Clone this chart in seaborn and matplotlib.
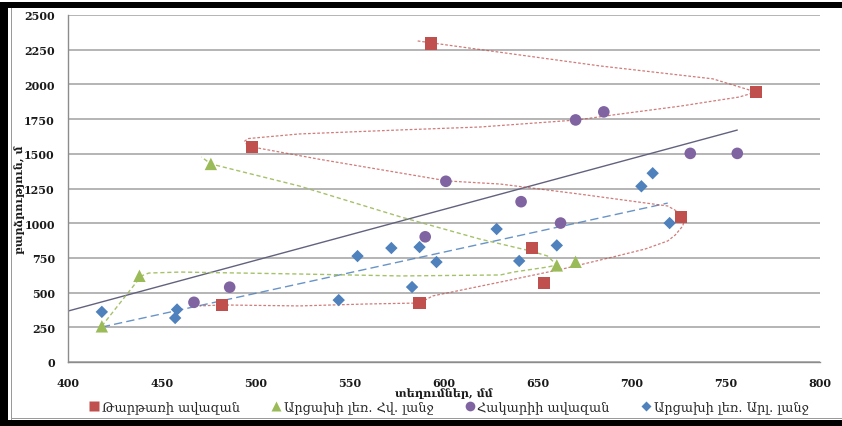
import matplotlib
matplotlib.use("Agg")
import matplotlib.pyplot as plt
from matplotlib.patches import Rectangle
from matplotlib.lines import Line2D
import seaborn as sns

# ---- data -------------------------------------------------------------
series_names = ["Թարթառի ավազան", "Արցախի լեռ. Հվ. լանջ",
                "Հակարիի ավազան", "Արցախի լեռ. Արլ. լանջ"]

tartar_x = [593, 766, 498, 726, 647, 653, 482, 587]
tartar_y = [2295, 1945, 1550, 1043, 820, 567, 413, 423]

south_x = [476, 438, 418, 660, 670]
south_y = [1427, 621, 257, 696, 722]

hakari_x = [467, 486, 590, 601, 641, 662, 670, 685, 731, 756]
hakari_y = [430, 539, 902, 1302, 1155, 1001, 1744, 1802, 1503, 1503]

east_x = [418, 457, 458, 544, 554, 572, 583, 587, 596, 628, 640, 660, 705, 711, 720]
east_y = [361, 317, 378, 446, 763, 821, 540, 828, 720, 958, 728, 840, 1266, 1360, 1001]

# trend lines
overall_trend_x = [400, 756]
overall_trend_y = [367, 1671]

east_trend_x = [418, 719]
east_trend_y = [252, 1145]

# smoothed course of the Tartar basin trend
tartar_curve_x = [586, 594, 683, 743, 766, 757, 743, 726, 690, 671, 619, 577, 523,
                  496, 494, 495, 498, 534, 602, 630, 672, 719, 726, 728, 727, 723,
                  719, 707, 690, 663, 630, 594, 587, 559, 523, 482, 470]
tartar_curve_y = [2313, 2298, 2133, 2040, 1945, 1909, 1880, 1844, 1780, 1744, 1693,
                  1672, 1643, 1610, 1592, 1568, 1549, 1460, 1304, 1282, 1210, 1124,
                  1070, 1030, 980, 915, 872, 814, 757, 670, 576, 476, 425, 418, 404,
                  411, 404]

# smoothed course of the southern slope trend
south_curve_x = [418, 439, 443, 460, 523, 577, 630, 637, 655, 660, 655, 646, 619,
                 577, 523, 476, 471]
south_curve_y = [259, 620, 641, 648, 634, 620, 627, 648, 684, 699, 764, 800, 886,
                 1045, 1268, 1427, 1477]

x_ticks = list(range(400, 801, 50))
y_ticks = list(range(0, 2501, 250))

# ---- style ------------------------------------------------------------
sns.set_style("white")
plt.rcParams["font.family"] = ["DejaVu Serif", "DejaVu Sans"]

RED = "#C0504D"
GREEN = "#9BBB59"
PURPLE = "#8064A2"
BLUE = "#4F81BD"
GRID = "#A8A8A8"

W, H = 842, 427
fig = plt.figure(figsize=(W / 100, H / 100), dpi=100)
fig.patch.set_facecolor("white")
ax = fig.add_axes([68 / W, 64 / H, 752 / W, 347 / H])

# ---- trend lines ------------------------------------------------------
sns.lineplot(x=overall_trend_x, y=overall_trend_y, sort=False, estimator=None,
             color="#62627F", lw=1.0, ax=ax, zorder=2)
sns.lineplot(x=east_trend_x, y=east_trend_y, sort=False, estimator=None,
             color=BLUE, lw=1.0, linestyle=(0, (6, 3)), alpha=0.85, ax=ax, zorder=2)
sns.lineplot(x=tartar_curve_x, y=tartar_curve_y, sort=False, estimator=None,
             color=RED, lw=0.9, linestyle=(0, (2.2, 1.5)), alpha=0.75, ax=ax, zorder=2)
sns.lineplot(x=south_curve_x, y=south_curve_y, sort=False, estimator=None,
             color=GREEN, lw=1.0, linestyle=(0, (3, 2)), alpha=0.9, ax=ax, zorder=2)

# ---- markers ----------------------------------------------------------
sns.scatterplot(x=tartar_x, y=tartar_y, marker="s", s=78, color=RED,
                edgecolor="none", ax=ax, zorder=3)
sns.scatterplot(x=south_x, y=south_y, marker="^", s=80, color=GREEN,
                edgecolor="none", ax=ax, zorder=3)
sns.scatterplot(x=hakari_x, y=hakari_y, marker="o", s=70, color=PURPLE,
                edgecolor="none", ax=ax, zorder=3)
sns.scatterplot(x=east_x, y=east_y, marker="D", s=40, color=BLUE,
                edgecolor="none", ax=ax, zorder=3)

# ---- axes -------------------------------------------------------------
ax.set_xlim(400, 800)
ax.set_ylim(0, 2500)
ax.set_xticks(x_ticks)
ax.set_yticks(y_ticks)
ax.yaxis.grid(True, color=GRID, lw=1.2)
ax.xaxis.grid(False)
ax.set_axisbelow(True)
for side in ("top", "right"):
    ax.spines[side].set_visible(False)
for side in ("left", "bottom"):
    ax.spines[side].set_color("#8C8C8C")
    ax.spines[side].set_linewidth(1.0)

ax.tick_params(axis="y", direction="out", length=4.5, width=1, color="#8C8C8C",
               pad=5, labelsize=8)
ax.tick_params(axis="x", direction="out", length=3, width=1, color="#8C8C8C",
               pad=8, labelsize=8)
for lab in ax.get_xticklabels() + ax.get_yticklabels():
    lab.set_fontweight("bold")
    lab.set_color("#1A1A1A")

ax.set_xlabel("տեղումներ, մմ", fontsize=8, fontweight="bold", color="#1A1A1A")
ax.xaxis.set_label_coords(0.5, -0.088)
ax.xaxis.label.set_va("center")
ax.set_ylabel("բարձրություն, մ", fontsize=8, fontweight="bold", color="#1A1A1A")
ax.yaxis.set_label_coords(-0.064, 0.47)
ax.yaxis.label.set_va("center")

# ---- legend -----------------------------------------------------------
handles = [
    Line2D([], [], ls="none", marker="s", ms=7, color=RED, mec="none"),
    Line2D([], [], ls="none", marker="^", ms=7.5, color=GREEN, mec="none"),
    Line2D([], [], ls="none", marker="o", ms=7, color=PURPLE, mec="none"),
    Line2D([], [], ls="none", marker="D", ms=5.5, color=BLUE, mec="none"),
]
fig.legend(handles, series_names, loc="center", bbox_to_anchor=(448 / W, 1 - 408 / H),
           ncol=4, frameon=False, fontsize=9.3, handletextpad=0.1,
           columnspacing=2.3, handlelength=1.0)

# ---- outer frame ------------------------------------------------------
def frame_rect(x0, y0, w, h, color):
    fig.add_artist(Rectangle((x0 / W, 1 - (y0 + h) / H), w / W, h / H,
                             transform=fig.transFigure, color=color, lw=0, zorder=10))

frame_rect(0, 3, 8, H - 3, "black")
frame_rect(0, 3, W, 6, "black")
frame_rect(0, 421, W, 6, "black")
frame_rect(11, 9, 1.2, 412, "#9A9A9A")
frame_rect(11, 419, W - 11, 1.2, "#9A9A9A")

fig.savefig("out.png", dpi=100, facecolor="white")
